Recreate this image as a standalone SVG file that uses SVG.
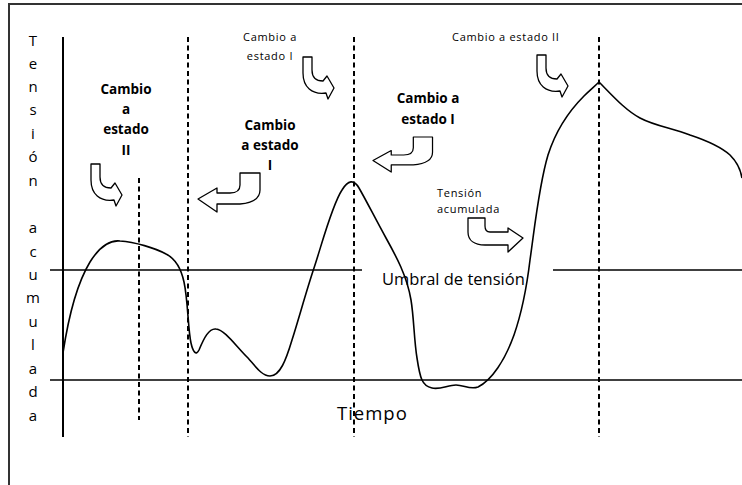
<svg xmlns="http://www.w3.org/2000/svg" width="742" height="485" viewBox="0 0 742 485">
<style>
.ln{stroke:#000;stroke-width:1.6;fill:none}
.ax{stroke:#000;stroke-width:2;fill:none}
.dash{stroke:#000;stroke-width:2;stroke-dasharray:5 3.5;fill:none}
.crv{stroke:#000;stroke-width:1.6;fill:none}
.arr{fill:#fff;stroke:#000;stroke-width:1.3;stroke-linejoin:round}
.t{font-family:"Open Sans","Noto Sans",sans-serif;fill:#000}
.sm{font-size:11px;letter-spacing:0.7px}
.bd{font-size:13.5px;font-weight:bold;text-anchor:middle}
.vt{font-size:15px;text-anchor:middle}
</style>
<defs>
<path id="arrDR" d="M0,0 H9 V13 C9,20 13,24 20,24 L24,19 L31,31 L25,42 L23,36 C9,38 0,30 0,16 Z"/>
<path id="arrL" d="M42,0 H62 V17 C62,26 54,30 42,31 H19 V39 L0,26 L19,15 V20 H32 C39,20 42,17 42,12 Z"/>
</defs>
<rect x="9" y="4" width="800" height="600" fill="#fff" stroke="#333" stroke-width="2"/>

<g id="axes">
<line class="ax" x1="63" y1="37" x2="63" y2="437"/>
<line class="ln" x1="50" y1="270" x2="362" y2="270"/>
<line class="ln" x1="553" y1="270" x2="742" y2="270"/>
<line class="ln" x1="50" y1="380" x2="742" y2="380"/>
<line class="dash" x1="139" y1="178" x2="139" y2="420"/>
<line class="dash" x1="188" y1="37" x2="188" y2="437"/>
<line class="dash" x1="354" y1="37" x2="354" y2="437"/>
<line class="dash" x1="599" y1="37" x2="599" y2="437"/>
</g>

<g id="curve">
<path class="crv" d="M63,353 C68,320 76,285 90,262 C100,246 110,240 120,241 C135,242 155,248 166,254 C176,259 181,268 184,282 C188,300 188,330 191,343 C193,352 196,356 199,350 C204,338 209,328 216,329 C225,330 235,345 248,358 C256,367 262,376 270,376 C280,376 286,360 292,340 C299,318 306,292 314,268 C322,244 332,205 342,190 C348,180 354,179 359,188 C366,200 376,220 386,238 C396,256 407,276 411,300 C414,318 414,340 417,358 C420,378 422,386 432,388 C440,390 448,385 456,385 C464,385 470,390 478,387 C492,380 505,360 514,335 C522,312 527,285 530,260 C535,225 539,185 548,155 C556,130 570,110 584,96 C590,90 595,86 599,82 C612,95 625,110 640,118 C655,126 672,128 690,135 C705,140 720,146 730,155 C738,163 741,172 742,178"/>
</g>

<g id="y-label">
<text class="t vt" x="33"><tspan x="33" y="46">T</tspan><tspan x="33" y="69">e</tspan><tspan x="33" y="92">n</tspan><tspan x="33" y="115">s</tspan><tspan x="33" y="139">i</tspan><tspan x="33" y="162">ó</tspan><tspan x="33" y="186">n</tspan><tspan x="33" y="233">a</tspan><tspan x="33" y="257">c</tspan><tspan x="33" y="280">u</tspan><tspan x="33" y="303">m</tspan><tspan x="33" y="327">u</tspan><tspan x="33" y="350">l</tspan><tspan x="33" y="374">a</tspan><tspan x="33" y="397">d</tspan><tspan x="33" y="421">a</tspan></text>
</g>

<g id="x-label">
<text class="t" x="337" y="420" font-size="18.5" letter-spacing="1">Tiempo</text>
</g>

<g id="threshold-label">
<text class="t" x="382" y="285" font-size="16.5">Umbral de tensión</text>
</g>

<g id="note-1">
<text class="t bd" x="126"><tspan x="126" y="93.5">Cambio</tspan><tspan x="126" y="114">a</tspan><tspan x="126" y="134">estado</tspan><tspan x="126" y="154.5">II</tspan></text>
<use href="#arrDR" class="arr" transform="translate(91,164)"/>
</g>

<g id="note-2">
<text class="t bd" x="270"><tspan x="270" y="130">Cambio</tspan><tspan x="270" y="150">a estado</tspan><tspan x="270" y="169.5">I</tspan></text>
<use href="#arrL" class="arr" transform="translate(198,173)"/>
</g>

<g id="note-3">
<text class="t sm" text-anchor="middle"><tspan x="270" y="41">Cambio a</tspan><tspan x="270" y="59.5">estado I</tspan></text>
<use href="#arrDR" class="arr" transform="translate(303,57)"/>
</g>

<g id="note-4">
<text class="t bd" x="428"><tspan x="428" y="103">Cambio a</tspan><tspan x="428" y="124">estado I</tspan></text>
<use href="#arrL" class="arr" transform="translate(373,137) scale(0.96,0.9)"/>
</g>

<g id="note-5">
<text class="t sm" x="437"><tspan x="437" y="197">Tensión</tspan><tspan x="437" y="213">acumulada</tspan></text>
<path class="arr" d="M468,218 H485 V226 C485,230 487,232 490,232 H508 V228 L523,238 L508,252 V245 H485 C474,245 468,240 468,232 Z"/>
</g>

<g id="note-6">
<text class="t sm" x="452" y="40.5">Cambio a estado II</text>
<use href="#arrDR" class="arr" transform="translate(537,55)"/>
</g>
</svg>
